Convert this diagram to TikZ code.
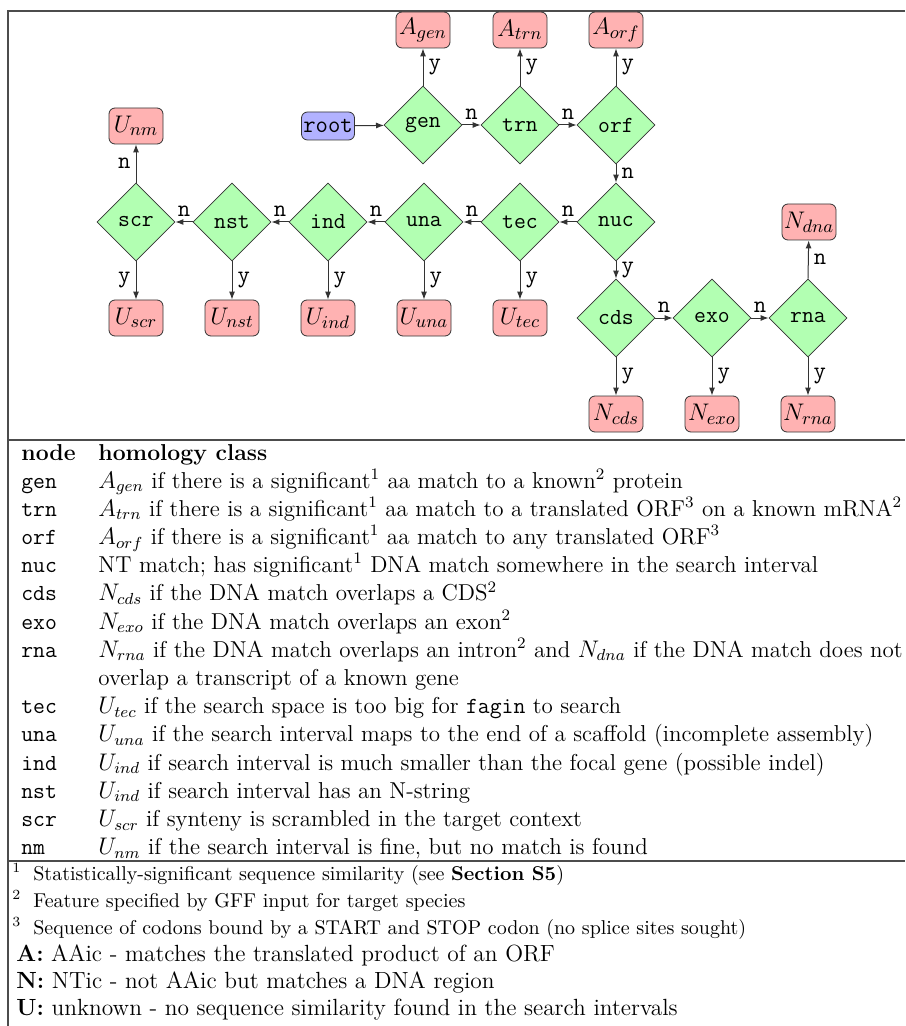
\documentclass[tikz,border=0pt]{standalone}
\usetikzlibrary{shapes.geometric,arrows.meta}
\begin{document}
\begin{tikzpicture}[x=0.5pt,y=-0.5pt,
  dec/.style={diamond, draw=black!80, fill=green!30, minimum width=39pt, minimum height=39pt, inner sep=0pt, aspect=1, font=\fontsize{11.5}{13}\selectfont\ttfamily},
  res/.style={rectangle, rounded corners=3pt, draw=black!80, fill=red!30, minimum width=27pt, minimum height=18pt, inner sep=0.8pt, font=\fontsize{13}{15}\selectfont},
  rootbox/.style={rectangle, rounded corners=3pt, draw=black!80, fill=blue!30, minimum width=26.5pt, minimum height=14pt, inner sep=0.5pt, font=\fontsize{12}{14}\selectfont\ttfamily},
  arr/.style={-{Latex[length=4pt,width=3pt]}, draw=black!80, line width=0.5pt},
  lbl/.style={font=\fontsize{12}{14}\selectfont\ttfamily, inner sep=2.5pt},
  rule/.style={draw=black!70, line width=1pt},
  tt/.style={anchor=base west, inner sep=0pt, font=\fontsize{11.5}{13}\selectfont\ttfamily},
  tx/.style={anchor=base west, inner sep=0pt, font=\fontsize{11.5}{13}\selectfont},
  fn/.style={anchor=base west, inner sep=0pt, font=\fontsize{10}{12}\selectfont},
  fb/.style={anchor=base west, inner sep=0pt, font=\fontsize{11.7}{13}\selectfont}
]
\useasboundingbox (0,0) rectangle (905,1026);
% frame
\coordinate (tl) at (8,11);
\coordinate (tr) at (905,11);
\coordinate (bl) at (8,1026);
\coordinate (h1l) at (8,440);
\coordinate (h1r) at (905,440);
\coordinate (h2l) at (8,861);
\coordinate (h2r) at (905,861);
\draw[rule] (tr) -- (tl) -- (bl);
\draw[rule] (h1l) -- (h1r);
\draw[rule] (h2l) -- (h2r);

% top row
\node[rootbox] (root) at (328,126) {root};
\node[dec] (gen) at (423,125) {gen};
\node[dec] (trn) at (520,125) {trn};
\node[dec] (orf) at (616,125) {orf};
\node[res] (Agen) at (423,30) {$A_{gen}$};
\node[res] (Atrn) at (520,30) {$A_{trn}$};
\node[res] (Aorf) at (616,30) {$A_{orf}$};
\node[res] (Unm) at (136,126) {$U_{nm}$};

% second row
\node[dec] (scr) at (136,222) {scr};
\node[dec] (nst) at (232,222) {nst};
\node[dec] (ind) at (328,222) {ind};
\node[dec] (una) at (424,222) {una};
\node[dec] (tec) at (520,222) {tec};
\node[dec] (nuc) at (616,222) {nuc};
\node[res] (Uscr) at (136,318) {$U_{scr}$};
\node[res] (Unst) at (232,318) {$U_{nst}$};
\node[res] (Uind) at (328,318) {$U_{ind}$};
\node[res] (Uuna) at (424,318) {$U_{una}$};
\node[res] (Utec) at (520,318) {$U_{tec}$};

% third row
\node[dec] (cds) at (616,318) {cds};
\node[dec] (exo) at (712,318) {exo};
\node[dec] (rna) at (808,318) {rna};
\node[res] (Ndna) at (809,222) {$N_{dna}$};
\node[res] (Ncds) at (616,414) {$N_{cds}$};
\node[res] (Nexo) at (712,414) {$N_{exo}$};
\node[res] (Nrna) at (808,414) {$N_{rna}$};

% connectors
\draw[arr] (root) -- (gen);
\draw[arr] (gen.north) -- node[lbl,right] {y} (Agen);
\draw[arr] (trn.north) -- node[lbl,right] {y} (Atrn);
\draw[arr] (orf.north) -- node[lbl,right] {y} (Aorf);
\draw[arr] (gen.east) -- node[lbl,above] {n} (trn.west);
\draw[arr] (trn.east) -- node[lbl,above] {n} (orf.west);
\draw[arr] (orf.south) -- node[lbl,right] {n} (nuc.north);
\draw[arr] (nuc.west) -- node[lbl,above] {n} (tec.east);
\draw[arr] (tec.west) -- node[lbl,above] {n} (una.east);
\draw[arr] (una.west) -- node[lbl,above] {n} (ind.east);
\draw[arr] (ind.west) -- node[lbl,above] {n} (nst.east);
\draw[arr] (nst.west) -- node[lbl,above] {n} (scr.east);
\draw[arr] (scr.north) -- node[lbl,left] {n} (Unm);
\draw[arr] (scr.south) -- node[lbl,left] {y} (Uscr);
\draw[arr] (nst.south) -- node[lbl,right] {y} (Unst);
\draw[arr] (ind.south) -- node[lbl,right] {y} (Uind);
\draw[arr] (una.south) -- node[lbl,right] {y} (Uuna);
\draw[arr] (tec.south) -- node[lbl,right] {y} (Utec);
\draw[arr] (nuc.south) -- node[lbl,right] {y} (cds.north);
\draw[arr] (cds.east) -- node[lbl,above] {n} (exo.west);
\draw[arr] (exo.east) -- node[lbl,above] {n} (rna.west);
\draw[arr] (rna.north) -- node[lbl,right] {n} (Ndna);
\draw[arr] (cds.south) -- node[lbl,right] {y} (Ncds);
\draw[arr] (exo.south) -- node[lbl,right] {y} (Nexo);
\draw[arr] (rna.south) -- node[lbl,right] {y} (Nrna);

% table
\node[tx] (hnode) at (21,460) {\bfseries node};
\node[tx] (hclass) at (98,460) {\bfseries homology class};
\node[tt] (cgen) at (21,488.0) {gen};
\node[tx] (dgen) at (98,488.0) {$A_{gen}$ if there is a significant$^1$ aa match to a known$^2$ protein};
\node[tt] (ctrn) at (21,516.2) {trn};
\node[tx] (dtrn) at (98,516.2) {$A_{trn}$ if there is a significant$^1$ aa match to a translated ORF$^3$ on a known mRNA$^2$};
\node[tt] (corf) at (21,544.4) {orf};
\node[tx] (dorf) at (98,544.4) {$A_{orf}$ if there is a significant$^1$ aa match to any translated ORF$^3$};
\node[tt] (cnuc) at (21,572.6) {nuc};
\node[tx] (dnuc) at (98,572.6) {NT match; has significant$^1$ DNA match somewhere in the search interval};
\node[tt] (ccds) at (21,600.8) {cds};
\node[tx] (dcds) at (98,600.8) {$N_{cds}$ if the DNA match overlaps a CDS$^2$};
\node[tt] (cexo) at (21,629.0) {exo};
\node[tx] (dexo) at (98,629.0) {$N_{exo}$ if the DNA match overlaps an exon$^2$};
\node[tt] (crna) at (21,657.2) {rna};
\node[tx] (drna) at (98,657.2) {$N_{rna}$ if the DNA match overlaps an intron$^2$ and $N_{dna}$ if the DNA match does not};
\node[tx] (drnb) at (98,685.4) {overlap a transcript of a known gene};
\node[tt] (ctec) at (21,713.6) {tec};
\node[tx] (dtec) at (98,713.6) {$U_{tec}$ if the search space is too big for \texttt{fagin} to search};
\node[tt] (cuna) at (21,741.8) {una};
\node[tx] (duna) at (98,741.8) {$U_{una}$ if the search interval maps to the end of a scaffold (incomplete assembly)};
\node[tt] (cind) at (21,770.0) {ind};
\node[tx] (dind) at (98,770.0) {$U_{ind}$ if search interval is much smaller than the focal gene (possible indel)};
\node[tt] (cnst) at (21,798.2) {nst};
\node[tx] (dnst) at (98,798.2) {$U_{ind}$ if search interval has an N-string};
\node[tt] (cscr) at (21,826.4) {scr};
\node[tx] (dscr) at (98,826.4) {$U_{scr}$ if synteny is scrambled in the target context};
\node[tt] (cnm) at (21,854.6) {nm};
\node[tx] (dnm) at (98,854.6) {$U_{nm}$ if the search interval is fine, but no match is found};

% footnotes
\node[fn] (f1) at (12,880) {$^1$\hspace{6pt}Statistically-significant sequence similarity (see \textbf{Section S5})};
\node[fn] (f2) at (12,907) {$^2$\hspace{6pt}Feature specified by GFF input for target species};
\node[fn] (f3) at (12,934) {$^3$\hspace{6pt}Sequence of codons bound by a START and STOP codon (no splice sites sought)};
\node[fb] (f4) at (16,961) {\textbf{A:} AAic - matches the translated product of an ORF};
\node[fb] (f5) at (16,988) {\textbf{N:} NTic - not AAic but matches a DNA region};
\node[fb] (f6) at (16,1015) {\textbf{U:} unknown - no sequence similarity found in the search intervals};
\end{tikzpicture}
\end{document}
